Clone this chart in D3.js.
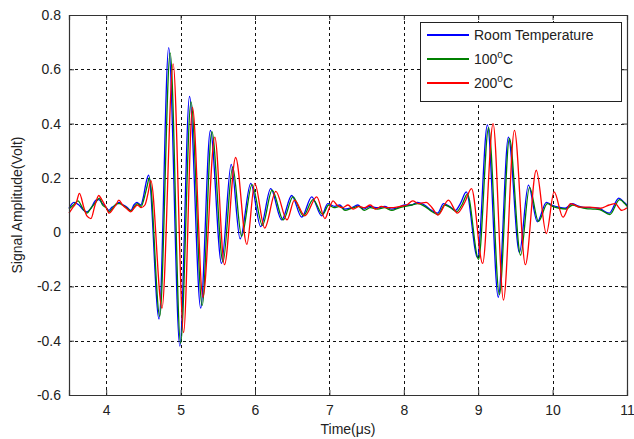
<!DOCTYPE html>
<html>
<head>
<meta charset="utf-8">
<script src="https://cdn.jsdelivr.net/npm/d3@7"></script>
<style>
  body { margin: 0; background: #fff; }
  text { font-family: "Liberation Sans", Arial, sans-serif; fill: #222; }
</style>
</head>
<body>
<svg id="chart" width="634" height="439"></svg>
<script>
// x ticks / y ticks
let xTicks = [4, 5, 6, 7, 8, 9, 10, 11];
let yTicks = [-0.6, -0.4, -0.2, 0, 0.2, 0.4, 0.6, 0.8];

// Room Temperature (blue)
let roomTime = [3.5, 3.567, 3.634, 3.7, 3.742, 3.795, 3.862, 3.903, 3.943, 3.997, 4.037, 4.077, 4.131, 4.171, 4.211, 4.279, 4.332, 4.372, 4.413, 4.466, 4.5, 4.534, 4.57,
  4.71, 4.84, 4.99, 5.12, 5.27, 5.4, 5.55, 5.68, 5.8, 5.943, 6.077, 6.211, 6.359, 6.493, 6.628, 6.762, 6.896,
  6.977, 7.07, 7.137, 7.204, 7.3, 7.38, 7.46, 7.54, 7.648, 7.742, 7.836, 7.916, 8.01, 8.104, 8.184, 8.278, 8.372, 8.453, 8.534, 8.614, 8.695, 8.76,
  8.84, 8.99, 9.124, 9.27, 9.406, 9.554, 9.675, 9.795, 9.916, 9.99, 10.08, 10.17, 10.26, 10.35, 10.44, 10.53, 10.62, 10.76, 10.89, 10.96, 11.0];
let roomAmp = [0.088, 0.11, 0.1, 0.08, 0.075, 0.088, 0.118, 0.12, 0.107, 0.092, 0.08, 0.092, 0.1, 0.11, 0.103, 0.092, 0.08, 0.1, 0.11, 0.1, 0.13, 0.18, 0.21,
  -0.32, 0.68, -0.42, 0.5, -0.28, 0.375, -0.115, 0.25, -0.025, 0.18, 0.02, 0.16, 0.045, 0.135, 0.055, 0.13, 0.06,
  0.105, 0.095, 0.1, 0.085, 0.09, 0.1, 0.085, 0.095, 0.09, 0.095, 0.085, 0.09, 0.1, 0.1, 0.11, 0.1, 0.08, 0.07, 0.105, 0.095, 0.08, 0.105,
  0.148, -0.093, 0.395, -0.24, 0.35, -0.075, 0.173, 0.038, 0.11, 0.1, 0.092, 0.088, 0.105, 0.096, 0.09, 0.09, 0.088, 0.07, 0.125, 0.11, 0.1];

// 100°C (green)
let t100Time = [3.5, 3.56, 3.62, 3.69, 3.74, 3.8, 3.86, 3.91, 3.95, 4.0, 4.04, 4.09, 4.14, 4.18, 4.22, 4.28, 4.34, 4.38, 4.42, 4.47, 4.51, 4.55, 4.58,
  4.72, 4.86, 5.0, 5.14, 5.29, 5.42, 5.57, 5.7, 5.82, 5.96, 6.1, 6.23, 6.38, 6.51, 6.65, 6.78, 6.91,
  6.99, 7.06, 7.14, 7.21, 7.3, 7.39, 7.47, 7.55, 7.65, 7.74, 7.84, 7.92, 8.02, 8.11, 8.19, 8.28, 8.38, 8.46, 8.55, 8.63, 8.71, 8.78,
  8.855, 9.005, 9.14, 9.285, 9.42, 9.57, 9.69, 9.81, 9.93, 10.0, 10.09, 10.18, 10.27, 10.36, 10.45, 10.54, 10.63, 10.77, 10.9, 10.97, 11.0];
let t100Amp = [0.085, 0.1, 0.115, 0.085, 0.07, 0.09, 0.11, 0.125, 0.1, 0.09, 0.075, 0.09, 0.105, 0.105, 0.1, 0.088, 0.078, 0.095, 0.105, 0.095, 0.125, 0.17, 0.2,
  -0.31, 0.66, -0.41, 0.48, -0.27, 0.37, -0.11, 0.24, -0.015, 0.175, 0.025, 0.155, 0.045, 0.13, 0.06, 0.12, 0.065,
  0.1, 0.09, 0.095, 0.08, 0.088, 0.095, 0.08, 0.09, 0.085, 0.09, 0.08, 0.088, 0.095, 0.1, 0.105, 0.095, 0.075, 0.065, 0.1, 0.09, 0.075, 0.1,
  0.14, -0.1, 0.385, -0.23, 0.345, -0.085, 0.165, 0.04, 0.105, 0.095, 0.088, 0.085, 0.1, 0.092, 0.087, 0.085, 0.083, 0.065, 0.12, 0.105, 0.095];

// 200°C (red)
let t200Time = [3.5, 3.55, 3.6, 3.64, 3.7, 3.74, 3.795, 3.85, 3.9, 3.94, 4.0, 4.04, 4.09, 4.13, 4.17, 4.22, 4.28, 4.33, 4.38, 4.42, 4.47, 4.52, 4.56, 4.6,
  4.75, 4.9, 5.04, 5.16, 5.3, 5.46, 5.59, 5.74, 5.89, 5.997, 6.13, 6.28, 6.43, 6.53, 6.67, 6.83, 6.94,
  7.0, 7.05, 7.1, 7.18, 7.25, 7.32, 7.4, 7.47, 7.55, 7.62, 7.7, 7.78, 7.86, 7.95, 8.04, 8.12, 8.2, 8.3, 8.38, 8.46, 8.6, 8.72, 8.82,
  8.91, 9.06, 9.2, 9.34, 9.487, 9.634, 9.78, 9.916, 10.02, 10.14, 10.24, 10.37, 10.5, 10.64, 10.76, 10.84, 10.93, 11.0];
let t200Amp = [0.07, 0.09, 0.11, 0.143, 0.09, 0.06, 0.05, 0.1, 0.135, 0.12, 0.09, 0.07, 0.085, 0.1, 0.118, 0.1, 0.085, 0.075, 0.09, 0.1, 0.09, 0.1, 0.14, 0.19,
  -0.28, 0.62, -0.37, 0.46, -0.24, 0.35, -0.12, 0.275, -0.045, 0.18, 0.015, 0.15, 0.045, 0.118, 0.06, 0.13, 0.05,
  0.09, 0.115, 0.1, 0.09, 0.1, 0.085, 0.095, 0.09, 0.1, 0.085, 0.095, 0.09, 0.09, 0.095, 0.1, 0.115, 0.105, 0.11, 0.09, 0.063, 0.118, 0.07, 0.11,
  0.16, -0.115, 0.4, -0.25, 0.375, -0.12, 0.228, -0.005, 0.148, 0.055, 0.105, 0.092, 0.092, 0.088, 0.1, 0.105, 0.08, 0.09];

let seriesNames = ["Room Temperature", "100", "200"];
let seriesColors = ["#0000ff", "#008000", "#ff0000"];

let svg = d3.select("#chart");
let margin = { left: 69, right: 7, top: 15, bottom: 44 };
let width = 634 - margin.left - margin.right;
let height = 439 - margin.top - margin.bottom;

let x = d3.scaleLinear().domain([3.5, 11]).range([0, width]);
let y = d3.scaleLinear().domain([-0.6, 0.8]).range([height, 0]);

let g = svg.append("g").attr("transform", `translate(${margin.left},${margin.top})`);

// grid
g.append("g")
  .selectAll("line")
  .data(xTicks.filter((d) => d < 11))
  .join("line")
  .attr("x1", (d) => Math.round(x(d)) + 0.5).attr("x2", (d) => Math.round(x(d)) + 0.5)
  .attr("y1", 0).attr("y2", height)
  .attr("stroke", "#111").attr("stroke-width", 1)
  .attr("stroke-dasharray", "3,3");
g.append("g")
  .selectAll("line")
  .data(yTicks.filter((d) => d > -0.6 && d < 0.8))
  .join("line")
  .attr("x1", 0).attr("x2", width)
  .attr("y1", (d) => Math.round(y(d)) + 0.5).attr("y2", (d) => Math.round(y(d)) + 0.5)
  .attr("stroke", "#111").attr("stroke-width", 1)
  .attr("stroke-dasharray", "3,3");

// lines
let lineGen = d3.line()
  .x((d) => x(d[0]))
  .y((d) => y(d[1]))
  .curve(d3.curveMonotoneX);

let allSeries = [
  d3.zip(roomTime, roomAmp),
  d3.zip(t100Time, t100Amp),
  d3.zip(t200Time, t200Amp),
];

g.append("g")
  .selectAll("path")
  .data(allSeries)
  .join("path")
  .attr("d", lineGen)
  .attr("fill", "none")
  .attr("stroke", (d, i) => seriesColors[i])
  .attr("stroke-width", 1.3);

// axes (ticks inward, MATLAB style)
let xAxis = g.append("g")
  .attr("transform", `translate(0,${height})`)
  .call(d3.axisBottom(x).tickValues(xTicks).tickSize(-5).tickPadding(10).tickFormat(d3.format("d")));
let xAxisTop = g.append("g")
  .call(d3.axisTop(x).tickValues(xTicks).tickSize(-5).tickFormat(""));
let yAxis = g.append("g")
  .call(d3.axisLeft(y).tickValues(yTicks).tickSize(-5).tickPadding(8).tickFormat((d) => String(+d.toFixed(1))));
let yAxisRight = g.append("g")
  .attr("transform", `translate(${width},0)`)
  .call(d3.axisRight(y).tickValues(yTicks).tickSize(-5).tickFormat(""));

[xAxis, xAxisTop, yAxis, yAxisRight].forEach((a) => {
  a.select(".domain").attr("stroke", "#333").attr("stroke-width", 1.2);
  a.selectAll(".tick line").attr("stroke", "#333");
  a.selectAll("text").attr("font-size", 14).attr("fill", "#222")
    .attr("font-family", "Liberation Sans, Arial, sans-serif");
});

// axis titles
svg.append("text")
  .attr("x", margin.left + width / 2)
  .attr("y", 434)
  .attr("text-anchor", "middle")
  .attr("font-size", 14)
  .text("Time(μs)");
svg.append("text")
  .attr("transform", `translate(22,${margin.top + height / 2}) rotate(-90)`)
  .attr("text-anchor", "middle")
  .attr("font-size", 14)
  .text("Signal Amplitude(Volt)");

// legend
let legend = svg.append("g").attr("transform", "translate(420,22)");
legend.append("rect")
  .attr("x", 0.5).attr("y", 0.5)
  .attr("width", 201).attr("height", 79)
  .attr("fill", "#fff").attr("stroke", "#222").attr("stroke-width", 1);
seriesNames.forEach((name, i) => {
  let row = legend.append("g").attr("transform", `translate(0,${13 + i * 24})`);
  row.append("line")
    .attr("x1", 7).attr("x2", 49)
    .attr("stroke", seriesColors[i]).attr("stroke-width", 2);
  let label = row.append("text").attr("x", 54).attr("y", 5).attr("font-size", 14);
  if (i == 0) {
    label.text(name);
  } else {
    label.append("tspan").text(name);
    label.append("tspan").attr("dy", -6).attr("font-size", 10).text("o");
    label.append("tspan").attr("dy", 6).text("C");
  }
});
</script>
</body>
</html>
